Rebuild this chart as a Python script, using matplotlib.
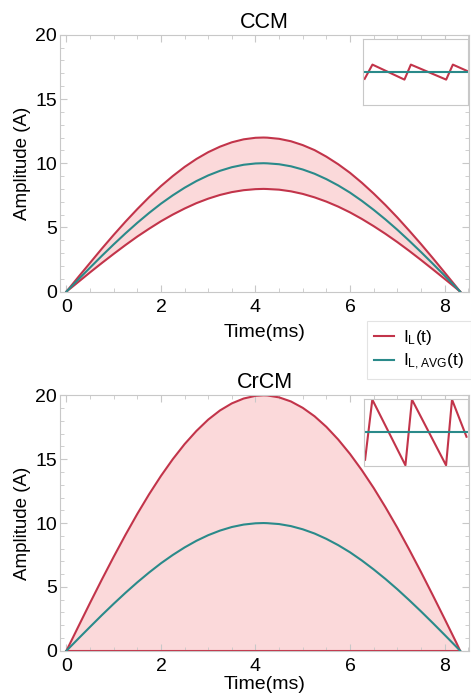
import matplotlib.pyplot as plt
from matplotlib.ticker import MultipleLocator

plt.rcParams['font.family'] = ['Liberation Sans', 'DejaVu Sans']

# time axis (ms), half line cycle
t = [0, 0.25, 0.5, 0.75, 1.0, 1.25, 1.5, 1.75, 2.0, 2.25, 2.5, 2.75, 3.0, 3.25, 3.5, 3.75, 4.0,
     4.17, 4.25, 4.5, 4.75, 5.0, 5.25, 5.5, 5.75, 6.0, 6.25, 6.5, 6.75, 7.0, 7.25, 7.5, 7.75,
     8.0, 8.25, 8.33]

# average inductor current (same in both modes)
i_avg = [0, 0.94, 1.87, 2.79, 3.68, 4.54, 5.36, 6.13, 6.85, 7.50, 8.09, 8.61, 9.05, 9.41, 9.69, 9.88, 9.98,
         10.0, 9.99, 9.92, 9.76, 9.51, 9.18, 8.76, 8.27, 7.71, 7.07, 6.37, 5.62, 4.82, 3.97, 3.09, 2.18,
         1.25, 0.31, 0]

# CCM ripple envelope
ccm_upper = [0, 1.13, 2.24, 3.35, 4.42, 5.45, 6.43, 7.36, 8.22, 9.00, 9.71, 10.33, 10.86, 11.29, 11.63, 11.86, 11.98,
             12.0, 11.99, 11.90, 11.71, 11.41, 11.02, 10.51, 9.92, 9.25, 8.48, 7.64, 6.74, 5.78, 4.76, 3.71, 2.62,
             1.50, 0.37, 0]
ccm_lower = [0, 0.75, 1.50, 2.23, 2.94, 3.63, 4.29, 4.90, 5.48, 6.00, 6.47, 6.89, 7.24, 7.53, 7.75, 7.90, 7.98,
             8.0, 7.99, 7.94, 7.81, 7.61, 7.34, 7.01, 6.62, 6.17, 5.66, 5.10, 4.50, 3.86, 3.18, 2.47, 1.74,
             1.00, 0.25, 0]

# CrCM ripple envelope
crcm_upper = [0, 1.88, 3.75, 5.58, 7.36, 9.08, 10.72, 12.26, 13.69, 15.00, 16.18, 17.21, 18.10, 18.82, 19.37, 19.75, 19.96,
              20.0, 19.99, 19.84, 19.52, 19.02, 18.36, 17.53, 16.54, 15.41, 14.14, 12.75, 11.24, 9.64, 7.94, 6.18, 4.36,
              2.51, 0.63, 0]
crcm_lower = [0] * len(t)

# zoomed-in switching ripple (insets)
ccm_zoom_x = [1.5, 9.3, 41.3, 47.7, 83.0, 89.7, 104.0]
ccm_zoom_y = [-0.9, 1.0, -1.0, 1.0, -1.0, 1.0, 0.15]
crcm_zoom_x = [1.0, 8.3, 41.7, 48.3, 82.7, 88.7, 103.3]
crcm_zoom_y = [-0.83, 1.0, -1.0, 1.0, -1.0, 1.0, -0.13]

red = '#c2344a'
teal = '#2a8a8a'
fill = '#fbd9da'
grey = '#c8c8c8'

fig = plt.figure(figsize=(4.71, 6.96), dpi=100)
ax1 = fig.add_axes([0.127, 0.581, 0.869, 0.369])
ax2 = fig.add_axes([0.127, 0.065, 0.869, 0.367])


def style(ax, title):
    ax.set_xlim(-0.14, 8.52)
    ax.set_ylim(0, 20)
    ax.xaxis.set_major_locator(MultipleLocator(2))
    ax.xaxis.set_minor_locator(MultipleLocator(0.5))
    ax.yaxis.set_major_locator(MultipleLocator(5))
    ax.yaxis.set_minor_locator(MultipleLocator(1))
    ax.tick_params(which='both', direction='in', top=True, right=True,
                   color=grey, labelsize=14, pad=2)
    ax.tick_params(axis='x', which='both', pad=5)
    ax.tick_params(which='major', length=5)
    ax.tick_params(which='minor', length=3)
    for s in ax.spines.values():
        s.set_color(grey)
        s.set_linewidth(0.8)
    ax.set_title(title, fontsize=15.5, pad=5)
    ax.set_xlabel('Time(ms)', fontsize=14, labelpad=6)
    ax.set_ylabel('Amplitude (A)', fontsize=13.5, labelpad=3)


ax1.fill_between(t, ccm_lower, ccm_upper, color=fill, lw=0)
ax1.plot(t, ccm_upper, color=red, lw=1.5)
ax1.plot(t, ccm_lower, color=red, lw=1.5)
ax1.plot(t, i_avg, color=teal, lw=1.5)
style(ax1, 'CCM')

ax2.fill_between(t, crcm_lower, crcm_upper, color=fill, lw=0)
l1, = ax2.plot(t, crcm_upper, color=red, lw=1.5)
ax2.plot(t, crcm_lower, color=red, lw=1.5)
l2, = ax2.plot(t, i_avg, color=teal, lw=1.5)
style(ax2, 'CrCM')
ax2.xaxis.labelpad = 1

# insets
in1 = fig.add_axes([0.771, 0.849, 0.223, 0.0948])
in1.plot(ccm_zoom_x, ccm_zoom_y, color=red, lw=1.5)
in1.axhline(0, color=teal, lw=1.5)
in1.set_xlim(0, 105)
in1.set_ylim(-4.4, 4.4)

in2 = fig.add_axes([0.773, 0.3305, 0.221, 0.0963])
in2.plot(crcm_zoom_x, crcm_zoom_y, color=red, lw=1.5)
in2.axhline(0, color=teal, lw=1.5)
in2.set_xlim(0, 105)
in2.set_ylim(-1.02, 1.02)

for a in (in1, in2):
    a.set_xticks([])
    a.set_yticks([])
    for s in a.spines.values():
        s.set_color(grey)
        s.set_linewidth(0.8)

leg = fig.legend([l1, l2], [r'$\mathregular{I_L(t)}$', r'$\mathregular{I_{L,AVG}(t)}$'],
                 loc='upper right', bbox_to_anchor=(1.0, 0.539), borderaxespad=0, fontsize=12.5,
                 frameon=True, fancybox=False, handlelength=1.2, handletextpad=0.5,
                 borderpad=0.4, labelspacing=0.3)
leg.get_frame().set_edgecolor('#dddddd')
leg.get_frame().set_linewidth(0.8)

plt.savefig('out.png', dpi=100)
